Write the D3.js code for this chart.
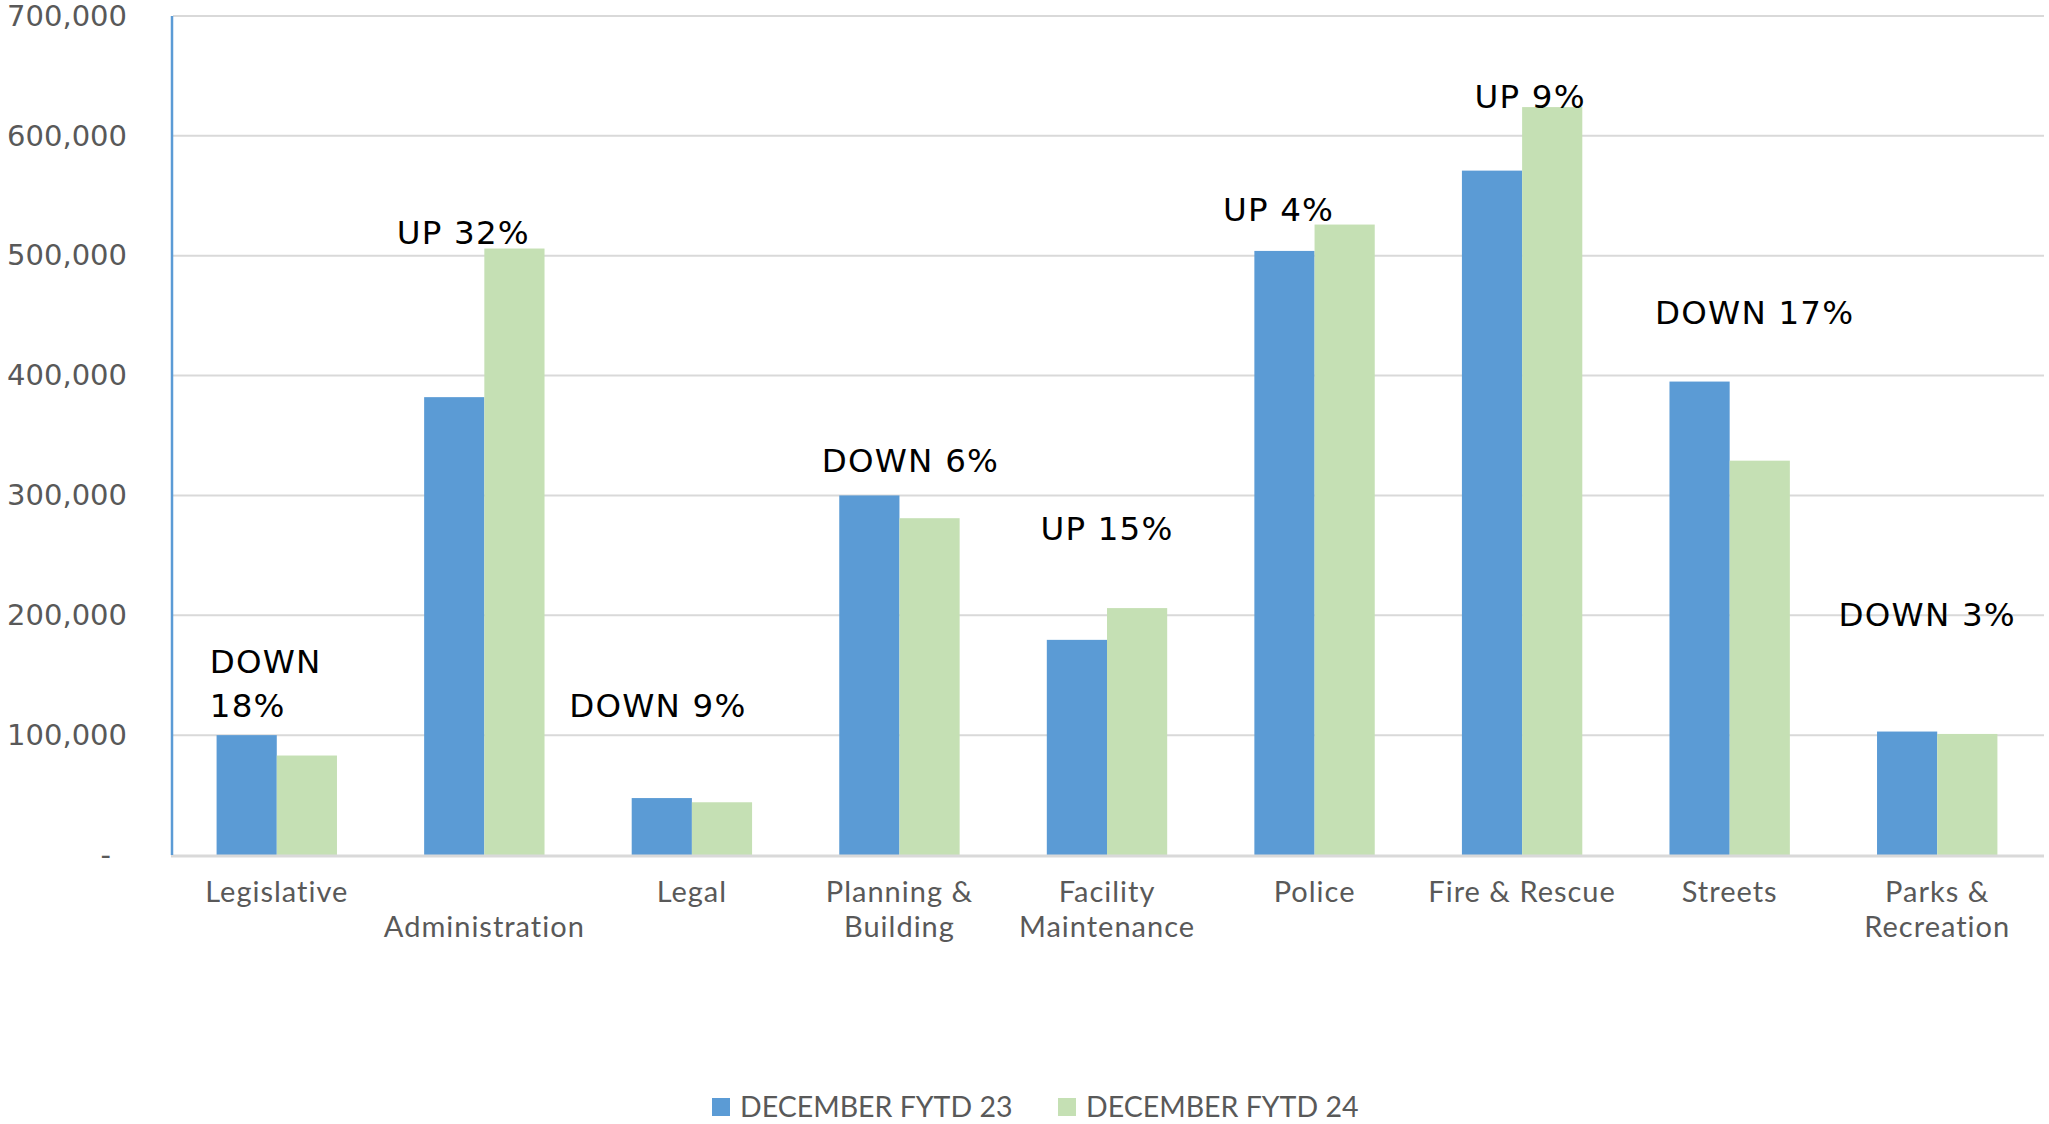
<!DOCTYPE html>
<html>
<head>
<meta charset="utf-8">
<script src="https://d3js.org/d3.v7.min.js"></script>
<style>
  body { margin: 0; background: #fff; }
  svg { display: block; }
</style>
</head>
<body>
<svg id="chart" width="2049" height="1124"></svg>
<script>
// Chart data
const departments = ["Legislative", "Administration", "Legal", "Planning & Building", "Facility Maintenance",
    "Police", "Fire & Rescue", "Streets", "Parks & Recreation"];
const axisLines = [["Legislative"], ["", "Administration"], ["Legal"], ["Planning &", "Building"],
    ["Facility", "Maintenance"], ["Police"], ["Fire & Rescue"], ["Streets"], ["Parks &", "Recreation"]];
const seriesNames = ["DECEMBER FYTD 23", "DECEMBER FYTD 24"];
const fytd23 = [100000, 382000, 47500, 300000, 179500, 504000, 571000, 395000, 103000];
const fytd24 = [83000, 506000, 44000, 281000, 206000, 526000, 624000, 329000, 101000];
const changeNotes = [["DOWN", "18%"], ["UP 32%"], ["DOWN 9%"], ["DOWN 6%"], ["UP 15%"],
    ["UP 4%"], ["UP 9%"], ["DOWN 17%"], ["DOWN 3%"]];
// where each change note sits: value level of its baseline, and shift from the group centre
const noteLevel = [151800, 509600, 115100, 319400, 262700, 528800, 623400, 442900, 191200];
const noteShift = [-67, -21, -34, 11, 0, -36, 8, 25, -10];
const yTicks = [0, 100000, 200000, 300000, 400000, 500000, 600000, 700000];

const colors = ["#5B9BD5", "#C5E0B4"];
const labelFont = "Lato, 'Open Sans', sans-serif";
const numFont = "'DejaVu Sans', Verdana, sans-serif";

const svg = d3.select("#chart");
const margin = { left: 173, right: 8, top: 16, bottom: 269 };
const width = +svg.attr("width");
const height = +svg.attr("height");
const plotBottom = height - margin.bottom;

const x = d3.scaleBand()
    .domain(departments)
    .range([margin.left, width - margin.right])
    .paddingInner(0.42)
    .paddingOuter(0.21);

const xs = d3.scaleBand()
    .domain(seriesNames)
    .range([0, x.bandwidth()]);

const y = d3.scaleLinear()
    .domain([0, 700000])
    .range([plotBottom, margin.top]);

// gridlines
svg.append("g")
    .selectAll("line")
    .data(yTicks.filter(d => d > 0))
    .join("line")
    .attr("x1", margin.left)
    .attr("x2", width - margin.right + 3)
    .attr("y1", d => y(d))
    .attr("y2", d => y(d))
    .attr("stroke", "#d9d9d9")
    .attr("stroke-width", 2);

// y axis labels
const yAxis = d3.axisLeft(y)
    .tickValues(yTicks)
    .tickSize(0)
    .tickPadding(0)
    .tickFormat(d => d === 0 ? "-" : d3.format(",")(d));

svg.append("g")
    .attr("transform", `translate(${margin.left - 46},0)`)
    .call(yAxis)
    .call(g => g.select(".domain").remove())
    .call(g => g.selectAll("text")
        .attr("font-family", numFont)
        .attr("font-size", 29)
        .attr("fill", "#595959")
        .attr("dx", d => d === 0 ? -16 : 0));

// bars
const rows = departments.map((d, i) => ({ dept: d, values: [fytd23[i], fytd24[i]] }));

svg.append("g")
    .selectAll("g")
    .data(rows)
    .join("g")
    .attr("transform", d => `translate(${x(d.dept)},0)`)
    .selectAll("rect")
    .data(d => d.values.map((v, k) => ({ series: seriesNames[k], value: v, k })))
    .join("rect")
    .attr("x", d => xs(d.series))
    .attr("width", xs.bandwidth())
    .attr("y", d => y(d.value))
    .attr("height", d => plotBottom - y(d.value))
    .attr("fill", d => colors[d.k]);

// x axis baseline and left axis line
svg.append("line")
    .attr("x1", margin.left - 2)
    .attr("x2", width - margin.right + 3)
    .attr("y1", plotBottom + 1)
    .attr("y2", plotBottom + 1)
    .attr("stroke", "#d9d9d9")
    .attr("stroke-width", 3);

svg.append("line")
    .attr("x1", margin.left - 1)
    .attr("x2", margin.left - 1)
    .attr("y1", margin.top)
    .attr("y2", plotBottom)
    .attr("stroke", "#5B9BD5")
    .attr("stroke-width", 2.5);

// category labels
const cat = svg.append("g")
    .selectAll("text")
    .data(departments)
    .join("text")
    .attr("x", d => x(d) + x.bandwidth() / 2)
    .attr("y", plotBottom + 47)
    .attr("text-anchor", "middle")
    .attr("font-family", labelFont)
    .attr("font-size", 29)
    .attr("letter-spacing", 1)
    .attr("fill", "#595959");

cat.selectAll("tspan")
    .data((d, i) => axisLines[i])
    .join("tspan")
    .attr("x", function() { return d3.select(this.parentNode).attr("x"); })
    .attr("dy", (d, j) => j === 0 ? 0 : 35)
    .text(d => d);

// change notes
svg.append("g")
    .selectAll("text")
    .data(departments)
    .join("text")
    .attr("x", (d, i) => x(d) + x.bandwidth() / 2 + noteShift[i])
    .attr("y", (d, i) => y(noteLevel[i]))
    .attr("text-anchor", (d, i) => changeNotes[i].length > 1 ? "start" : "middle")
    .attr("font-family", numFont)
    .attr("font-size", 32.5)
    .attr("letter-spacing", 1.2)
    .attr("fill", "#000")
    .selectAll("tspan")
    .data((d, i) => changeNotes[i])
    .join("tspan")
    .attr("x", function() { return d3.select(this.parentNode).attr("x"); })
    .attr("dy", (d, j) => j === 0 ? 0 : 44)
    .text(d => d);

// legend
const legend = svg.append("g")
    .selectAll("g")
    .data(seriesNames)
    .join("g")
    .attr("transform", (d, i) => `translate(${712 + i * 346},1107)`);

legend.append("rect")
    .attr("x", 0)
    .attr("y", -9)
    .attr("width", 18)
    .attr("height", 18)
    .attr("fill", (d, i) => colors[i]);

legend.append("text")
    .attr("x", 28)
    .attr("dy", "0.35em")
    .attr("font-family", labelFont)
    .attr("font-size", 28.5)
    .attr("fill", "#595959")
    .text(d => d);
</script>
</body>
</html>
